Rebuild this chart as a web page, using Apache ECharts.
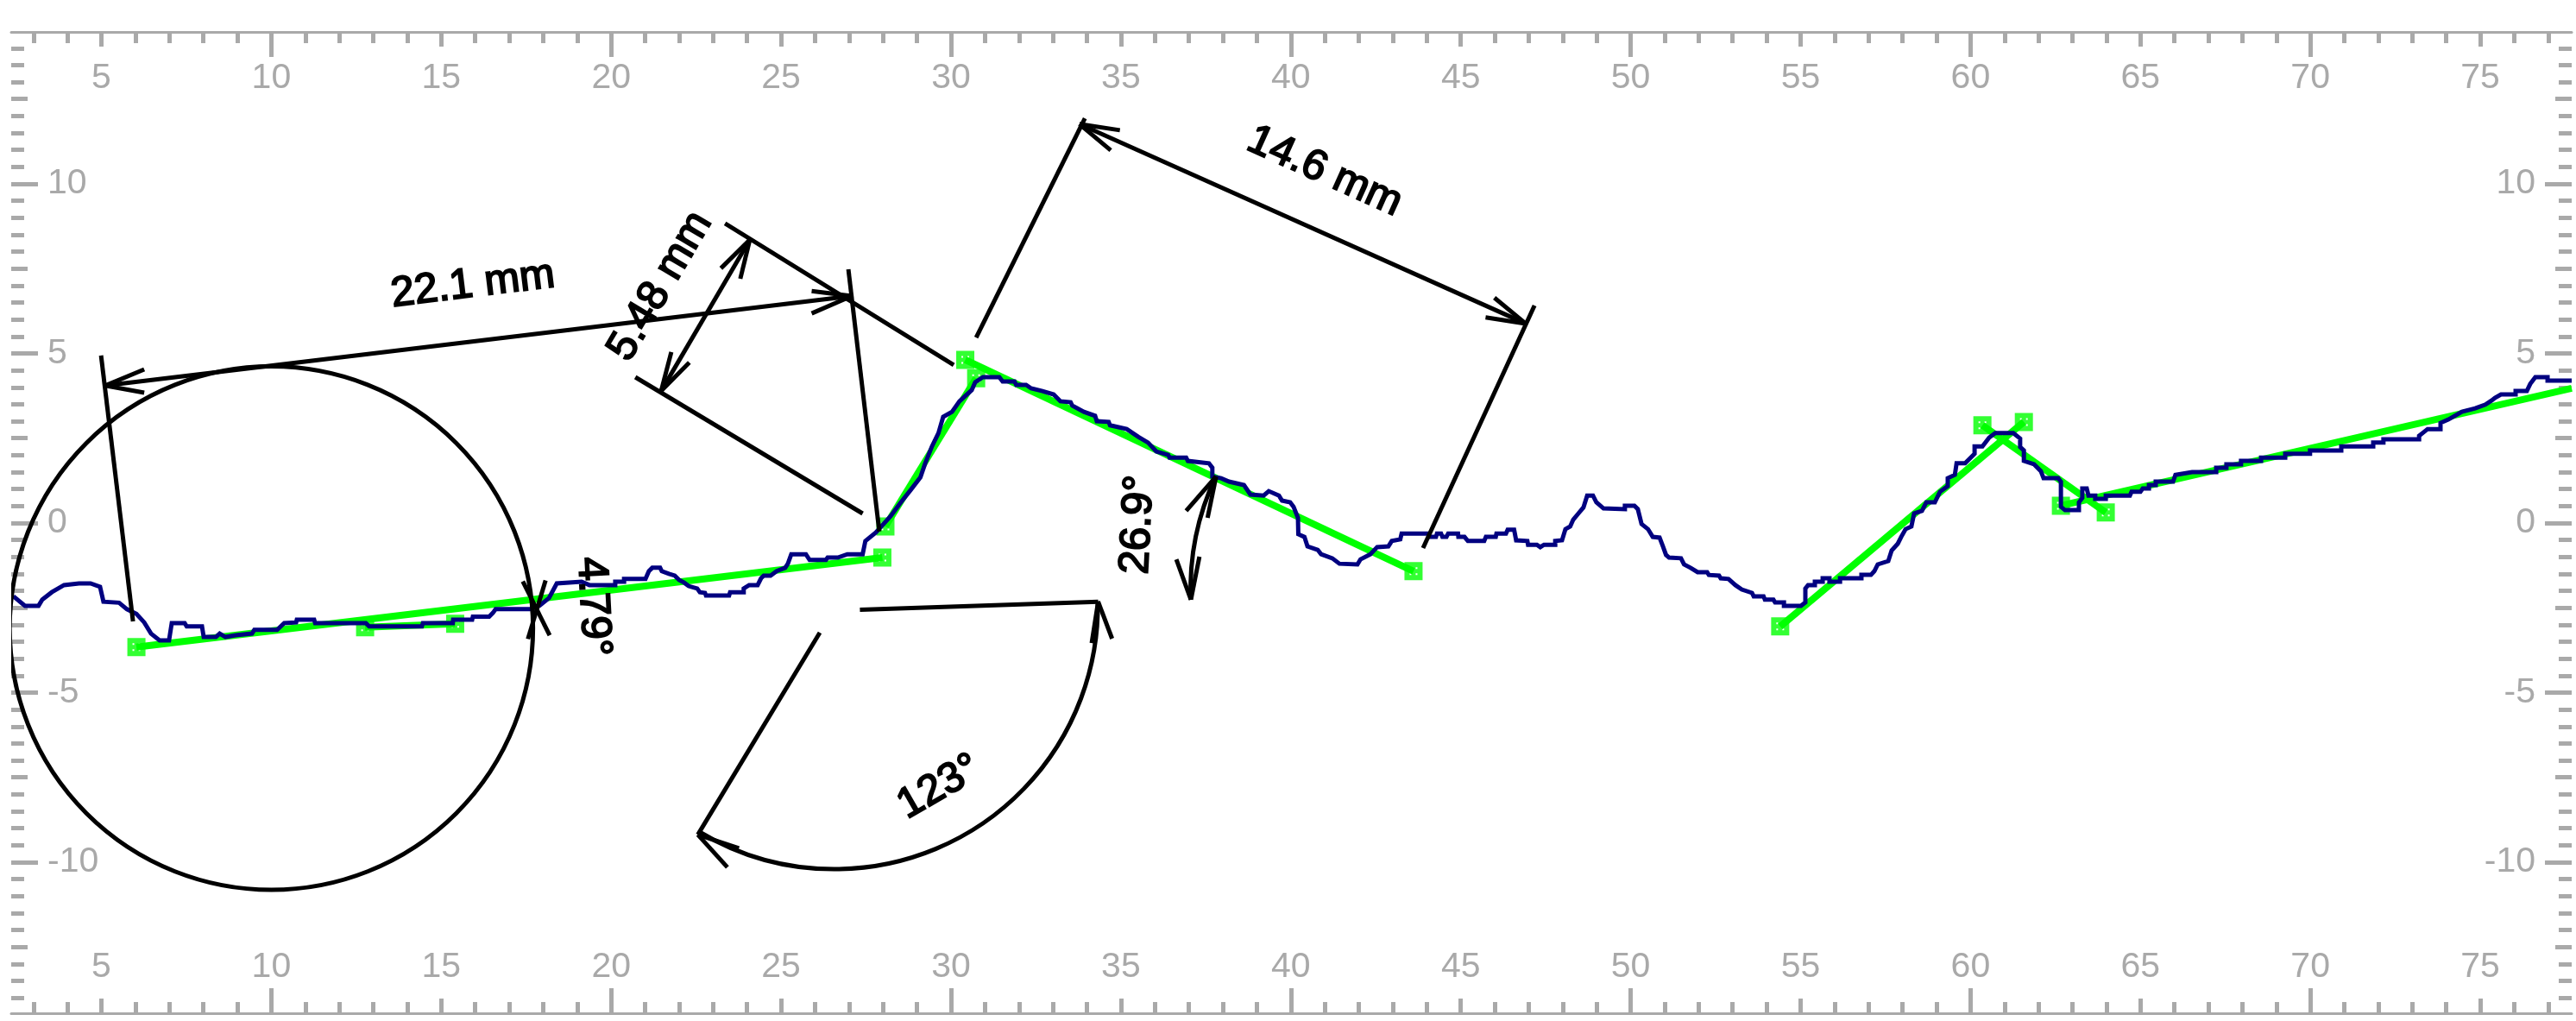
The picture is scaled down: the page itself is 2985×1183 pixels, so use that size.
<!DOCTYPE html>
<html><head><meta charset="utf-8">
<style>html,body{margin:0;padding:0;background:#fff}#c{width:2985px;height:1183px}</style>
<script src="https://cdn.jsdelivr.net/npm/echarts@6/dist/echarts.min.js"></script>
</head><body><div id="c"></div>
<script>
const xTickLabels = [5,10,15,20,25,30,35,40,45,50,55,60,65,70,75];
const yTickLabels = [-10,-5,0,5,10];

const profileValues = [
[2.41,-2.16],[2.75,-2.44],[3.15,-2.44],[3.26,-2.26],[3.54,-2.04],[3.90,-1.83],[4.34,-1.78],[4.68,-1.78],[4.96,-1.88],[5.06,-2.32],
[5.52,-2.35],[5.75,-2.54],[6.03,-2.68],[6.26,-2.93],[6.46,-3.26],[6.71,-3.46],[6.99,-3.46],[7.07,-2.95],[7.45,-2.95],[7.51,-3.05],
[7.96,-3.05],[8.01,-3.36],[8.37,-3.36],[8.48,-3.26],[8.65,-3.36],[8.95,-3.31],[8.99,-3.26],[9.43,-3.26],[9.50,-3.15],[10.17,-3.15],
[10.38,-2.95],[10.73,-2.93],[10.75,-2.85],[11.26,-2.85],[11.29,-2.95],[12.78,-2.95],[12.88,-3.05],[14.43,-3.05],[14.46,-2.95],[15.34,-2.95],
[15.35,-2.85],[15.91,-2.85],[15.93,-2.76],[16.41,-2.76],[16.52,-2.65],[16.60,-2.54],[17.61,-2.54],[17.89,-2.44],[18.17,-2.21],[18.40,-1.78],
[19.13,-1.73],[19.36,-1.83],[20.12,-1.83],[20.12,-1.73],[20.38,-1.73],[20.38,-1.65],[21.01,-1.65],[21.11,-1.42],[21.21,-1.32],[21.44,-1.32],
[21.49,-1.42],[21.70,-1.50],[21.87,-1.55],[22.00,-1.68],[22.15,-1.76],[22.28,-1.86],[22.53,-1.93],[22.61,-2.04],[22.76,-2.06],[22.79,-2.14],
[23.47,-2.14],[23.50,-2.04],[23.90,-2.04],[23.90,-1.93],[24.06,-1.83],[24.31,-1.83],[24.41,-1.63],[24.49,-1.55],[24.69,-1.55],[24.87,-1.42],
[25.12,-1.32],[25.20,-1.20],[25.30,-0.92],[25.73,-0.92],[25.84,-1.09],[26.32,-1.09],[26.37,-1.02],[26.67,-1.02],[26.95,-0.92],[27.40,-0.92],
[27.48,-0.53],[27.79,-0.28],[28.22,0.20],[28.51,0.59],[28.81,0.97],[29.10,1.35],[29.24,1.76],[29.44,2.26],[29.63,2.65],[29.77,3.13],
[30.03,3.28],[30.25,3.59],[30.61,3.92],[30.71,4.15],[30.94,4.30],[31.42,4.30],[31.52,4.17],[31.87,4.17],[31.92,4.07],[32.21,4.07],
[32.36,3.97],[32.69,3.89],[33.02,3.79],[33.22,3.59],[33.52,3.56],[33.57,3.46],[33.91,3.28],[34.24,3.16],[34.29,3.00],[34.64,2.98],
[34.68,2.88],[35.17,2.77],[35.51,2.54],[35.80,2.37],[36.04,2.11],[36.39,2.01],[36.43,1.93],[36.92,1.93],[36.97,1.83],[37.59,1.76],
[37.69,1.63],[37.69,1.37],[37.95,1.32],[38.18,1.22],[38.62,1.12],[38.81,0.84],[39.20,0.81],[39.35,0.94],[39.65,0.81],[39.74,0.66],
[39.98,0.61],[40.08,0.48],[40.21,0.15],[40.22,-0.33],[40.40,-0.41],[40.49,-0.69],[40.79,-0.79],[40.89,-0.92],[41.22,-1.04],[41.43,-1.20],
[41.96,-1.22],[42.05,-1.07],[42.34,-0.92],[42.54,-0.71],[42.87,-0.69],[42.97,-0.53],[43.22,-0.48],[43.26,-0.31],[44.04,-0.31],[44.09,-0.41],
[44.27,-0.41],[44.30,-0.31],[44.42,-0.31],[44.46,-0.41],[44.58,-0.41],[44.63,-0.31],[44.92,-0.31],[44.93,-0.41],[45.11,-0.41],[45.21,-0.53],
[45.69,-0.53],[45.74,-0.41],[46.03,-0.41],[46.05,-0.31],[46.33,-0.31],[46.38,-0.20],[46.57,-0.20],[46.63,-0.51],[46.96,-0.53],[46.98,-0.64],
[47.24,-0.64],[47.34,-0.71],[47.45,-0.64],[47.78,-0.64],[47.78,-0.53],[47.98,-0.51],[48.08,-0.18],[48.22,-0.10],[48.31,0.10],[48.46,0.28],
[48.61,0.46],[48.72,0.81],[48.89,0.81],[48.99,0.61],[49.20,0.43],[49.83,0.41],[49.83,0.51],[50.11,0.51],[50.21,0.41],[50.32,-0.03],
[50.51,-0.18],[50.65,-0.41],[50.85,-0.43],[50.95,-0.69],[51.04,-0.94],[51.13,-1.02],[51.48,-1.04],[51.57,-1.22],[51.76,-1.32],[51.97,-1.45],
[52.25,-1.45],[52.30,-1.53],[52.60,-1.55],[52.65,-1.63],[52.88,-1.65],[53.08,-1.83],[53.27,-1.96],[53.57,-2.06],[53.62,-2.16],[53.91,-2.16],
[53.95,-2.26],[54.20,-2.26],[54.25,-2.34],[54.51,-2.34],[54.51,-2.44],[55.01,-2.44],[55.14,-2.34],[55.14,-1.93],[55.22,-1.83],[55.42,-1.83],
[55.42,-1.73],[55.65,-1.73],[55.65,-1.63],[55.85,-1.63],[55.85,-1.73],[56.16,-1.73],[56.16,-1.63],[56.79,-1.63],[56.79,-1.53],[57.07,-1.53],
[57.17,-1.42],[57.27,-1.22],[57.58,-1.12],[57.68,-0.81],[57.86,-0.61],[57.96,-0.41],[58.09,-0.18],[58.26,-0.10],[58.34,0.28],[58.57,0.36],
[58.70,0.61],[58.95,0.61],[59.10,0.92],[59.33,1.09],[59.33,1.32],[59.54,1.42],[59.59,1.76],[59.84,1.76],[60.12,2.04],[60.12,2.26],
[60.35,2.26],[60.55,2.52],[60.73,2.65],[61.26,2.65],[61.46,2.49],[61.46,2.24],[61.57,2.14],[61.57,1.83],[61.87,1.73],[62.07,1.53],
[62.15,1.32],[62.58,1.32],[62.66,1.22],[62.66,0.48],[62.78,0.38],[63.19,0.38],[63.19,0.61],[63.29,0.74],[63.29,1.02],[63.42,1.02],
[63.47,0.81],[63.67,0.81],[63.67,0.71],[63.98,0.71],[63.98,0.81],[64.69,0.81],[64.74,0.92],[65.00,0.92],[65.07,1.02],[65.25,1.02],
[65.25,1.12],[65.45,1.12],[65.45,1.22],[65.96,1.22],[66.03,1.42],[66.52,1.50],[67.23,1.50],[67.23,1.63],[67.53,1.63],[67.53,1.73],
[67.96,1.73],[67.96,1.83],[68.55,1.83],[68.55,1.93],[69.26,1.93],[69.26,2.04],[69.99,2.04],[69.99,2.14],[70.91,2.14],[70.91,2.26],
[71.85,2.26],[71.85,2.37],[72.15,2.37],[72.15,2.47],[73.20,2.47],[73.20,2.57],[73.30,2.65],[73.45,2.77],[73.83,2.77],[73.83,2.95],
[74.06,3.05],[74.46,3.28],[74.85,3.38],[75.15,3.49],[75.33,3.61],[75.43,3.69],[75.61,3.79],[76.04,3.79],[76.04,3.89],[76.37,3.89],
[76.47,4.10],[76.62,4.30],[76.98,4.30],[76.98,4.20],[77.69,4.20]];

const fitSegments = [
[6.03,-3.66,27.98,-1.02],
[12.76,-3.07,15.41,-2.97],
[28.07,-0.10,30.74,4.27],
[30.42,4.81,43.61,-1.42],
[54.40,-3.05,61.57,2.98],
[60.35,2.88,63.98,0.31],
[62.66,0.51,77.69,3.97]];
const fitHandles = [
[6.03,-3.66],[27.98,-1.02],[12.76,-3.07],[15.41,-2.97],[28.07,-0.10],[30.74,4.27],[30.42,4.81],[43.61,-1.42],
[54.40,-3.05],[61.57,2.98],[60.35,2.88],[63.98,0.31],[62.66,0.51]];

const measureLines = [
[5.11,4.05,27.08,6.69],[5.11,4.05,6.26,4.53],[5.11,4.05,6.26,3.84],[27.08,6.69,25.90,6.84],[27.08,6.69,25.90,6.18],
[4.99,4.94,5.93,-2.90],[26.98,7.48,27.89,-0.25],
[23.35,8.83,30.08,4.66],[20.71,4.30,27.40,0.28],[24.08,8.35,21.47,3.89],[24.08,8.35,23.23,7.51],[24.08,8.35,23.80,7.20],
[21.47,3.89,21.77,5.04],[21.47,3.89,22.30,4.73],
[30.74,5.47,33.94,11.93],[33.78,11.76,46.91,5.88],[43.89,-0.74,47.17,6.41],[33.78,11.76,34.70,10.99],[33.78,11.76,34.97,11.58],
[46.91,5.88,45.99,6.64],[46.91,5.88,45.73,6.06],
[27.32,-2.56,34.33,-2.32],[26.14,-3.23,22.55,-9.19],[34.33,-2.32,34.74,-3.41],[34.33,-2.32,34.14,-3.54],
[22.55,-9.19,23.42,-10.15],[22.55,-9.19,23.76,-9.59],
[37.80,1.37,36.92,0.36],[37.80,1.37,37.55,0.15],[37.06,-2.26,36.63,-1.07],[37.06,-2.26,37.31,-0.99],
[17.40,-1.72,18.19,-3.31],[18.07,-1.69,17.55,-3.42]];
// centre x, centre y, radius, start angle, end angle (degrees, clockwise on screen)
const measureArcs = [
[10,-3.1,7.7,0,360],
[26.57,-2.44,7.75,-1,121],
[44.82,-1.95,7.77,177.7,205.3]];
const noteTexts = ['22.1 mm','5.48 mm','14.6 mm','123°','26.9°','4.79°'];
const noteX = [15.93,21.45,40.99,29.65,35.51,19.46];
const noteY = [7.02,6.98,10.36,-7.79,-0.05,-2.47];
const noteAngle = [7,59.5,-24.3,30,87,-87];

const xMinorTicks=[],xMidTicks=[],xMajorTicks=[],yMinorTicks=[],yMidTicks=[],yMajorTicks=[];
for(let v=3;v<=77;v++){ if(v%10===0)xMajorTicks.push(v); else if(v%5===0)xMidTicks.push(v); else xMinorTicks.push(v); }
for(let v=-14;v<=14;v+=0.5){ if(v%5===0)yMajorTicks.push(v); else if(v%2.5===0)yMidTicks.push(v); else yMinorTicks.push(v); }

const GREY='#a9a9a9', FONT='"Liberation Sans",Arial,sans-serif';
const XR={min:2.346,max:77.69}, YR={min:-14.453,max:14.478};
function axis(kind,position,ticks,len,labels,margin,showLine){
  const isX=kind==='x';
  return Object.assign({type:'value',position,splitLine:{show:false}},isX?XR:YR,{
    axisLine:{show:!!showLine,onZero:false,lineStyle:{color:GREY,width:3}},
    axisTick:{show:true,inside:true,length:len,customValues:ticks,lineStyle:{color:GREY,width:5}},
    axisLabel:labels?{show:true,inside:true,margin,customValues:labels,color:GREY,fontSize:41,fontFamily:FONT,formatter:v=>String(v)}:{show:false}
  });
}
const xAxes=[], yAxes=[];
['top','bottom'].forEach(p=>{
  xAxes.push(axis('x',p,xMinorTicks,13,null,0,true));
  xAxes.push(axis('x',p,xMidTicks,17,xTickLabels,33));
  xAxes.push(axis('x',p,xMajorTicks,29));
});
['left','right'].forEach(p=>{
  yAxes.push(axis('y',p,yMinorTicks,15));
  yAxes.push(axis('y',p,yMidTicks,19,yTickLabels,42));
  yAxes.push(axis('y',p,yMajorTicks,31));
});
const handleSymbol='path://M0 0H21V21H0Z M6 6V8H8V6Z M13 6V8H15V6Z M6 13V15H8V13Z M13 13V15H15V13Z';
const series=[];
fitSegments.forEach(s=>series.push({type:'line',silent:true,showSymbol:false,symbol:'none',z:2,
  data:[[s[0],s[1]],[s[2],s[3]]],lineStyle:{color:'#00ff00',width:8,cap:'butt'}}));
series.push({type:'scatter',silent:true,symbol:handleSymbol,symbolSize:21,z:3,data:fitHandles,itemStyle:{color:'#00ff00'}});
series.push({type:'line',silent:true,showSymbol:false,symbol:'none',z:4,data:profileValues,sampling:false,
  lineStyle:{color:'#000080',width:5,cap:'butt',join:'miter'}});
series.push({type:'custom',silent:true,z:5,clip:true,data:measureLines,encode:{x:[0,2],y:[1,3]},
  renderItem(p,api){
    const a=api.coord([api.value(0),api.value(1)]),b=api.coord([api.value(2),api.value(3)]);
    return {type:'line',shape:{x1:a[0],y1:a[1],x2:b[0],y2:b[1]},style:{stroke:'#000',lineWidth:5,lineCap:'butt'}};
  }});
series.push({type:'custom',silent:true,z:5,clip:true,data:measureArcs,encode:{x:0,y:1},
  renderItem(p,api){
    const c=api.coord([api.value(0),api.value(1)]),r=api.size([api.value(2),0])[0];
    return {type:'arc',shape:{cx:c[0],cy:c[1],r,startAngle:api.value(3)*Math.PI/180,endAngle:api.value(4)*Math.PI/180,clockwise:true},
      style:{stroke:'#000',lineWidth:5,fill:null}};
  }});
series.push({type:'custom',silent:true,z:6,clip:false,data:noteX.map((x,i)=>[x,noteY[i],noteAngle[i]]),encode:{x:0,y:1},
  renderItem(p,api){
    const c=api.coord([api.value(0),api.value(1)]);
    return {type:'text',x:c[0],y:c[1],rotation:api.value(2)*Math.PI/180,
      style:{text:noteTexts[p.dataIndex],x:0,y:0,align:'center',verticalAlign:'middle',fill:'#000',fontSize:49,fontFamily:FONT,stroke:'#000',lineWidth:2}};
  }});
const chart=echarts.init(document.getElementById('c'),null,{renderer:'canvas'});
chart.setOption({animation:false,backgroundColor:'#fff',
  grid:{left:13,right:5,top:37,bottom:9,containLabel:false},
  tooltip:{show:false},legend:{show:false},xAxis:xAxes,yAxis:yAxes,series});
</script></body></html>
